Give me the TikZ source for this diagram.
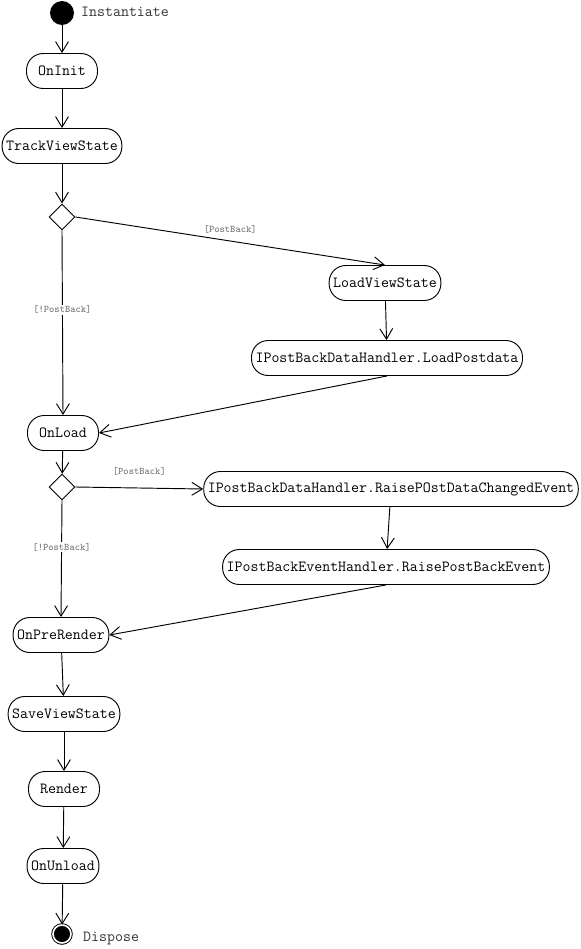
\documentclass[tikz,border=0pt]{standalone}
\usepackage{fontspec}
\usepackage{tikz}
\usetikzlibrary{arrows.meta, positioning, shapes.geometric}
\definecolor{guardgray}{HTML}{6E6E6E}
\definecolor{notegray}{HTML}{333333}

\begin{document}
\begin{tikzpicture}[
    x=0.03cm, y=-0.03cm,
    activity/.style={draw, line width=0.8pt, rounded corners=0.5cm,
                     minimum width=2.13cm, minimum height=1.05cm,
                     inner xsep=3.5pt, inner ysep=0pt,
                     font=\ttfamily\fontsize{13.2}{15}\selectfont},
    decision/.style={draw, diamond, line width=0.8pt, aspect=1,
                     minimum width=0.78cm, minimum height=0.78cm, inner sep=0pt},
    startnode/.style={circle, fill=black, minimum size=0.72cm, inner sep=0pt},
    endnode/.style={circle, fill=black, draw=black, double=white,
                    double distance=1.4pt, line width=0.8pt,
                    minimum size=0.54cm, inner sep=0pt},
    note/.style={anchor=west, inner sep=0pt, text=notegray,
                 font=\ttfamily\fontsize{13.2}{15}\selectfont},
    guard/.style={inner sep=1pt, text=guardgray,
                  font=\ttfamily\fontsize{8.6}{10}\selectfont},
    flow/.style={-{Straight Barb[length=9pt, width=11pt]}, line width=0.8pt}
  ]
    \useasboundingbox (0,0) rectangle (580,949);

    % start
    \node[startnode] (start) at (62,13) {};
    \node[note] (instantiate) at (81,12) {Instantiate};

    \node[activity] (oninit) at (62,71) {OnInit};
    \node[activity] (track) at (62,146) {TrackViewState};
    \node[decision] (dec1) at (62,217) {};

    % postback branch 1
    \node[activity] (loadvs) at (385,283) {LoadViewState};
    \node[activity] (loadpd) at (387,358) {IPostBackDataHandler.LoadPostdata};

    \node[activity] (onload) at (63,433) {OnLoad};
    \node[decision] (dec2) at (62,487) {};

    % postback branch 2
    \node[activity] (raisechg) at (391,489) {IPostBackDataHandler.RaisePOstDataChangedEvent};
    \node[activity] (raisepb) at (386,567) {IPostBackEventHandler.RaisePostBackEvent};

    \node[activity] (prerender) at (61,635) {OnPreRender};
    \node[activity] (savevs) at (64,714) {SaveViewState};
    \node[activity] (render) at (64,789) {Render};
    \node[activity] (onunload) at (63,866) {OnUnload};

    % end
    \node[endnode] (stop) at (62,934) {};
    \node[note] (dispose) at (83,938) {Dispose};

    \draw[flow] (start) -- (oninit);
    \draw[flow] (oninit) -- (track);
    \draw[flow] (track) -- (dec1);
    \draw[flow] (dec1.east) -- (loadvs.north)
      node[guard, midway, above=5pt] (g1) {[PostBack]};
    \draw[flow] (dec1.south) -- (onload.north)
      node[guard, pos=0.43, fill=white] (g2) {[!PostBack]};
    \draw[flow] (loadvs) -- (loadpd);
    \draw[flow] (loadpd.south) -- (onload.east);
    \draw[flow] (onload) -- (dec2);
    \draw[flow] (dec2.east) -- (raisechg.west)
      node[guard, midway, above=9pt] (g3) {[PostBack]};
    \draw[flow] (dec2.south) -- (prerender.north)
      node[guard, pos=0.4, fill=white] (g4) {[!PostBack]};
    \draw[flow] (raisechg) -- (raisepb);
    \draw[flow] (raisepb.south) -- (prerender.east);
    \draw[flow] (prerender) -- (savevs);
    \draw[flow] (savevs) -- (render);
    \draw[flow] (render) -- (onunload);
    \draw[flow] (onunload) -- (stop);
  \end{tikzpicture}
\end{document}
